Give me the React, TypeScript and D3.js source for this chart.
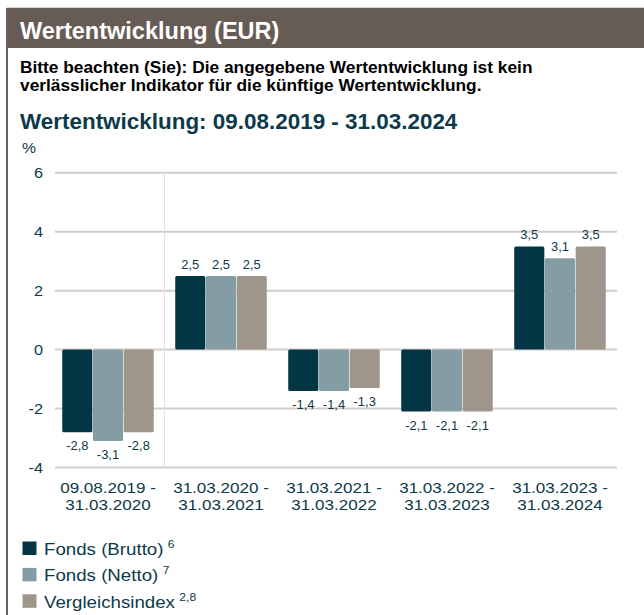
import React from "react";
import * as d3 from "d3";

const categories = [
  ["09.08.2019 -", "31.03.2020"],
  ["31.03.2020 -", "31.03.2021"],
  ["31.03.2021 -", "31.03.2022"],
  ["31.03.2022 -", "31.03.2023"],
  ["31.03.2023 -", "31.03.2024"],
];
const seriesNames = ["Fonds (Brutto)", "Fonds (Netto)", "Vergleichsindex"];
const seriesSup = ["6", "7", "2,8"];
const brutto = [-2.8, 2.5, -1.4, -2.1, 3.5];
const netto = [-3.1, 2.5, -1.4, -2.1, 3.1];
const index = [-2.8, 2.5, -1.3, -2.1, 3.5];
const yTicks = [-4, -2, 0, 2, 4, 6];

const colors = ["#023645", "#849da4", "#9e958b"];
const textColor = "#0d3a4a";
const font = "'Liberation Sans', Arial, sans-serif";

function T(props: any) {
  const { x, y, sx = 1, children, ...rest } = props;
  return (
    <text transform={`translate(${x},${y}) scale(${sx},1)`} {...rest}>
      {children}
    </text>
  );
}

export default function App() {
  const W = 644, H = 615;
  const series = [brutto, netto, index];
  const y = d3.scaleLinear().domain([-4, 6]).range([467.5, 172.8]);
  const x0 = d3.scaleBand<number>().domain(d3.range(categories.length)).range([51.5, 616.5]).paddingInner(0.19).paddingOuter(0.095);
  const x1 = d3.scaleBand<number>().domain(d3.range(3)).range([0, x0.bandwidth()]).paddingInner(0.02);
  const fmt = (v: number) => v.toFixed(1).replace(".", ",");
  const gridLeft = 55, gridRight = 617;
  const step = x0.step();
  const sepX = x0(0)! + x0.bandwidth() + (step - x0.bandwidth()) / 2;

  return (
    <svg width={W} height={H} style={{ position: "absolute", left: 0, top: 0 }} fontFamily={font}>
      <rect x={0} y={0} width={W} height={H} fill="#fff" />
      {/* frame */}
      <line x1={7} x2={W} y1={7.5} y2={7.5} stroke="#d8d4d0" strokeWidth={1} />
      <rect x={7} y={8} width={W - 7} height={40} fill="#675b55" />
      <rect x={6} y={8} width={2} height={H - 8} fill="#6b5f58" />
      <T x={20} y={38.5} fill="#fff" fontSize={23.5} fontWeight="bold">Wertentwicklung (EUR)</T>
      <T x={20} y={73} sx={1.05} fill="#000" fontSize={16.5} fontWeight="bold">Bitte beachten (Sie): Die angegebene Wertentwicklung ist kein</T>
      <T x={20} y={91} sx={1.05} fill="#000" fontSize={16.5} fontWeight="bold">verlässlicher Indikator für die künftige Wertentwicklung.</T>
      <T x={20} y={129} sx={1.02} fill={textColor} fontSize={22} fontWeight="bold">Wertentwicklung: 09.08.2019 - 31.03.2024</T>
      <T x={22} y={153} sx={1.05} fill={textColor} fontSize={15}>%</T>

      {/* grid */}
      {yTicks.map((t) => (
        <g key={t}>
          <line x1={gridLeft} x2={gridRight} y1={y(t)} y2={y(t)} stroke="#d3cdc7" strokeWidth={2} />
          <T x={43} y={y(t) + 5.5} sx={1.05} textAnchor="end" fill={textColor} fontSize={15.5}>{t}</T>
        </g>
      ))}
      <line x1={sepX} x2={sepX} y1={y(6)} y2={y(-4)} stroke="#e4e1de" strokeWidth={1} />

      {/* bars */}
      {categories.map((c, i) => (
        <g key={i} transform={`translate(${x0(i)},0)`}>
          {series.map((s, j) => {
            const v = s[i];
            const top = Math.min(y(v), y(0));
            const h = Math.abs(y(v) - y(0));
            const cx = x1(j)! + x1.bandwidth() / 2;
            return (
              <g key={j}>
                <rect x={x1(j)} y={top} width={x1.bandwidth()} height={h} fill={colors[j]} rx={1.5} />
                <T x={cx} y={v >= 0 ? y(v) - 7 : y(v) + 18} sx={1.08} textAnchor="middle" fill={textColor} fontSize={12}>{fmt(v)}</T>
              </g>
            );
          })}
          <T x={x0.bandwidth() / 2} y={492.5} sx={1.1} textAnchor="middle" fill={textColor} fontSize={15.5}>{c[0]}</T>
          <T x={x0.bandwidth() / 2} y={509.5} sx={1.1} textAnchor="middle" fill={textColor} fontSize={15.5}>{c[1]}</T>
        </g>
      ))}

      {/* legend */}
      {seriesNames.map((n, i) => (
        <g key={n} transform={`translate(0,${i * 26.4})`}>
          <rect x={22.5} y={541.5} width={14} height={13.5} fill={colors[i]} />
          <T x={44} y={555} sx={1.1} fill={textColor} fontSize={17}>
            {n}
            <tspan dx={4} dy={-7} fontSize={11}>{seriesSup[i]}</tspan>
          </T>
        </g>
      ))}
    </svg>
  );
}
